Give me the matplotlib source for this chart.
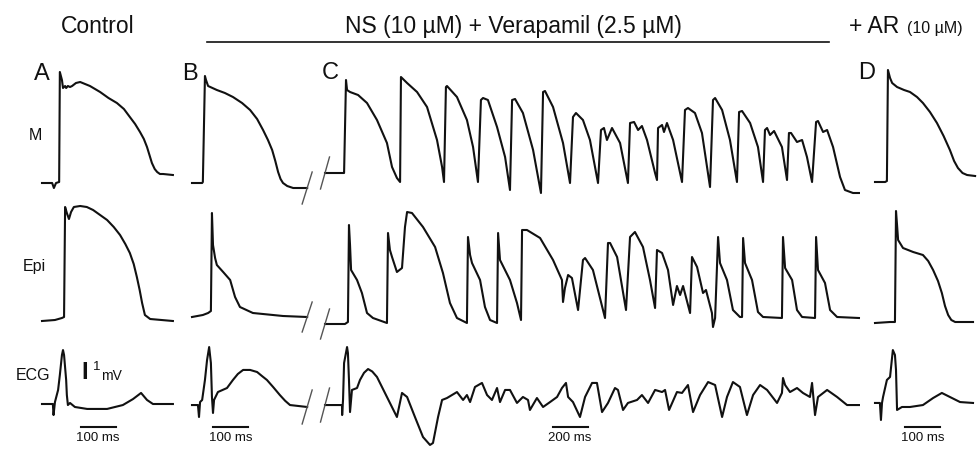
import matplotlib.pyplot as plt
from matplotlib.lines import Line2D
from matplotlib.transforms import IdentityTransform

plt.rcParams['font.family'] = ['Liberation Sans', 'DejaVu Sans']

# ---- traces: time in ms, membrane potential in mV, ECG in mV ----
# Control (A)
a_m_t = [0, 29, 34, 40, 49, 51, 57, 60, 66, 69, 74, 80, 86, 97, 109, 137, 166, 190, 214, 234, 251, 266,
         280, 291, 300, 307, 314, 322, 329, 337, 346, 374]
a_m_v = [-85, -85, -90, -85, -84, 26, 18, 10, 12, 10, 12, 11, 12, 15, 16, 12, 6, 0, -5, -11, -19, -26,
         -34, -41, -49, -57, -65, -71, -74, -76, -76, -77]
a_epi_t = [0, 37, 57, 63, 66, 71, 77, 83, 91, 109, 128, 146, 166, 186, 205, 223, 238, 251, 262, 271,
           279, 286, 294, 309, 374]
a_epi_v = [-85, -84, -82, -81, 29, 23, 17, 24, 29, 30, 29, 26, 21, 16, 9, 1, -8, -17, -28, -41,
           -54, -67, -79, -83, -85]
a_ecg_t = [0, 31, 33, 37, 46, 51, 57, 60, 63, 69, 71, 74, 80, 94, 129, 186, 231, 260, 283, 300, 317, 374]
a_ecg_v = [0, 0, -0.85, 0.15, 1.08, 2.23, 3.77, 4.15, 3.77, 1.85, 0.69, -0.08, 0.08, -0.23, -0.38, -0.38,
           -0.08, 0.38, 0.85, 0.31, 0, 0]

# NS + Verapamil, first beat (B)
b_m_t = [0, 29, 31, 37, 40, 46, 71, 94, 117, 143, 166, 186, 203, 217, 229, 238, 246, 253, 260, 272,
         289, 329]
b_m_v = [-85, -85, -84, 22, 18, 12, 8, 5, 1, -5, -12, -21, -32, -42, -52, -63, -74, -81, -85, -88,
         -90, -90]
b_epi_t = [0, 31, 46, 54, 57, 60, 66, 71, 89, 109, 123, 137, 174, 260, 329]
b_epi_v = [-81, -79, -77, -75, 23, -9, -22, -29, -36, -44, -61, -71, -77, -80, -81]
b_ecg_t = [0, 17, 20, 23, 29, 37, 43, 49, 54, 57, 60, 63, 74, 100, 117, 131, 146, 166, 186, 200, 214,
           232, 251, 266, 280, 329]
b_ecg_v = [-0.08, -0.08, -1.0, 0.15, 0.31, 1.85, 3.38, 4.38, 3.15, 0.54, -0.69, 0.31, 0.92, 1.23, 1.85,
           2.31, 2.62, 2.62, 2.46, 2.15, 1.85, 1.3, 0.69, 0.25, -0.08, -0.23]

# NS + Verapamil, arrhythmia run (C)
c_m_t = [0, 103, 109, 120, 126, 143, 189, 240, 297, 354, 383, 411, 429,
         434, 469, 526, 583, 640, 669, 680, 691, 697, 754, 811, 846, 874,
         891, 903, 931, 983, 1029, 1057, 1069, 1086, 1131, 1189, 1234,
         1246, 1257, 1303, 1360, 1400, 1417, 1434, 1474, 1514, 1560,
         1577, 1594, 1611, 1640, 1686, 1731, 1743, 1766, 1789, 1811, 1840, 1886, 1897,
         1903, 1926, 1937, 1954, 1989, 2040, 2057, 2074, 2114, 2154, 2200,
         2217, 2229, 2269, 2314, 2354, 2366, 2383, 2429, 2474, 2503,
         2514, 2526, 2543, 2566, 2611, 2640, 2651, 2663, 2697, 2726, 2754, 2783,
         2806, 2817, 2846, 2869, 2903, 2943, 2971, 3017, 3051]
c_m_v = [-75, -75, -75, 18, 8, 6, 3, -5, -22, -45, -69, -80, -84,
         21, 15, 6, -9, -42, -69, -84, 11, 12, 1, -22, -49, -84,
         -2, 0, -2, -29, -59, -92, -2, -1, -15, -52, -95,
         6, 7, -9, -45, -85, -19, -15, -22, -42, -85,
         -32, -30, -42, -30, -45, -85, -25, -24, -32, -28, -42, -75, -82,
         -30, -27, -34, -25, -42, -84, -12, -10, -15, -35, -89,
         -2, 0, -12, -42, -84, -14, -13, -25, -49, -84,
         -32, -30, -37, -33, -49, -82, -35, -35, -44, -42, -59, -84,
         -24, -23, -34, -32, -49, -79, -92, -95, -95]
c_epi_t = [0, 114, 131, 137, 143, 149, 183, 211, 240, 274, 354,
           360, 371, 383, 411, 440, 457, 469, 497, 560, 629, 674, 714, 754, 811,
           817, 829, 840, 886, 914, 943, 983, 989, 1000, 1057, 1097, 1120,
           1126, 1154, 1229, 1303, 1354, 1360, 1371, 1389, 1411, 1446,
           1474, 1486, 1531, 1600, 1617, 1629, 1669, 1720, 1743, 1771, 1817, 1857, 1886,
           1897, 1926, 1960, 1989, 2011, 2029, 2046, 2086, 2097, 2126, 2160, 2177, 2211,
           2217, 2229, 2246, 2257, 2297, 2331, 2371, 2383, 2389, 2400, 2440, 2474, 2503,
           2611, 2617, 2629, 2669, 2697, 2726, 2800, 2806, 2817, 2857, 2886, 2926, 3051]
c_epi_v = [-88, -88, -86, 11, -9, -34, -44, -57, -77, -82, -87,
           3, -14, -21, -36, -32, 9, 24, 23, 9, -11, -37, -67, -82, -87,
           -1, -19, -27, -44, -71, -84, -87, 3, -24, -44, -67, -84,
           6, 6, -2, -24, -44, -66, -52, -39, -42, -74,
           -24, -22, -34, -82, -7, -7, -21, -74, -1, 4, -11, -44, -72,
           -14, -17, -34, -69, -50, -59, -50, -77, -21, -31, -57, -54, -77,
           -91, -82, -1, -27, -44, -74, -81, -81, -2, -27, -44, -76, -81,
           -82, -1, -32, -44, -74, -81, -82, -1, -34, -47, -74, -81, -82]
c_ecg_t = [0, 97, 98, 103, 109, 126, 131, 137, 143, 154, 183, 200, 223, 246, 270, 297, 354, 411, 440, 469,
           514, 560, 600, 617, 646, 669, 697, 754, 789, 811, 829, 857, 897, 926, 954, 983,
           1000, 1029, 1057, 1097, 1131, 1160, 1171, 1211, 1246, 1286, 1326, 1354, 1377,
           1389, 1417, 1457, 1486, 1526, 1554, 1583, 1617, 1657, 1674, 1703, 1731, 1783,
           1811, 1846, 1886, 1926, 1943, 1966, 2011, 2040, 2074, 2103, 2143, 2189, 2229,
           2269, 2297, 2331, 2371, 2411, 2446, 2486, 2526, 2583, 2611, 2617, 2629, 2657,
           2697, 2731, 2771, 2783, 2800, 2817, 2869, 2926, 2983, 3051]
c_ecg_v = [-0.08, -0.08, -0.85, 0.31, 3.15, 4.38, 3.92, 1.85, -0.62, 1.08, 1.23, 1.85, 2.4, 2.69, 2.5,
           2.08, 0.54, -1.0, 0.85, 0.54, -1.0, -2.54, -3.15, -3.0, -1.0, 0.31, 0.46, 0.92,
           0.31, 0.69, 0.15, 1.31, 1.62, 0.69, 0.31, 1.23, 0.15, 1.08, 1.08, 0.08, 0.54,
           0.31, -0.46, 0.46, -0.23, 0.15, 0.54, 1.23, 1.62, 0.54, 0.15, -1.0, 0.54, 1.62,
           1.62, -0.62, 0.08, 1.23, 1.08, -0.46, 0.08, 0.31, 0.69, 0.08, 1.08, 0.92, 1.08,
           -0.46, 0.92, 0.85, 1.46, -0.62, 0.69, 1.69, 1.46, -1.0, 0.54, 1.69, 1.31, -0.85,
           0.69, 1.46, 1.08, 0.08, 0.85, 2.0, 1.46, 0.92, 1.23, 0.85, 0.54, 1.62, -0.85,
           0.54, 1.08, 0.54, -0.08, -0.08]

# + AR (D)
d_m_t = [0, 29, 34, 37, 43, 49, 63, 83, 100, 120, 137, 157, 177, 196, 214, 226, 237, 250, 263, 286]
d_m_v = [-84, -84, -83, 28, 20, 15, 11, 8, 6, 1, -5, -14, -25, -38, -52, -63, -70, -75, -77, -78]
d_epi_t = [0, 43, 57, 60, 63, 66, 80, 109, 137, 152, 166, 180, 191, 200, 209, 218, 229, 280]
d_epi_v = [-87, -86, -86, 25, 11, -4, -12, -16, -19, -25, -34, -45, -57, -70, -79, -84, -86, -86]
d_ecg_t = [0, 14, 17, 20, 23, 34, 43, 51, 57, 60, 63, 77, 100, 137, 166, 191, 214, 243, 280]
d_ecg_v = [0.08, 0.08, -1.23, 0.08, 0.54, 1.85, 2.08, 4.15, 3.77, 2.62, -0.46, -0.23, -0.23,
           -0.08, 0.46, 0.85, 0.54, 0.15, 0.08]

# time scale bars (ms) and their labels
bar_start = {'A': 110, 'B': 60, 'C': 1300, 'D': 86}
bar_len = {'A': 100, 'B': 100, 'C': 200, 'D': 100}
bar_labels = {'A': '100 ms', 'B': '100 ms', 'C': '200 ms', 'D': '100 ms'}

row_labels = ['M', 'Epi', 'ECG']
panel_letters = ['A', 'B', 'C', 'D']

traces = {
    ('A', 'M'): (a_m_t, a_m_v), ('A', 'Epi'): (a_epi_t, a_epi_v), ('A', 'ECG'): (a_ecg_t, a_ecg_v),
    ('B', 'M'): (b_m_t, b_m_v), ('B', 'Epi'): (b_epi_t, b_epi_v), ('B', 'ECG'): (b_ecg_t, b_ecg_v),
    ('C', 'M'): (c_m_t, c_m_v), ('C', 'Epi'): (c_epi_t, c_epi_v), ('C', 'ECG'): (c_ecg_t, c_ecg_v),
    ('D', 'M'): (d_m_t, d_m_v), ('D', 'Epi'): (d_epi_t, d_epi_v), ('D', 'ECG'): (d_ecg_t, d_ecg_v),
}

# ---- layout (pixels of the 979x449 figure) ----
W, H = 979, 449
# column: left pixel, ms per pixel, width in pixels
COLS = {'A': (42, 2.857, 140), 'B': (192, 2.857, 120), 'C': (325, 5.714, 540), 'D': (875, 2.857, 104)}
# row: reference pixel, value at reference, pixels per unit, top, bottom
ROWS = {'M': (183, -85, 1.0, 45, 215), 'Epi': (321, -85, 1.0, 190, 345), 'ECG': (404, 0, 13.0, 335, 449)}

fig = plt.figure(figsize=(W / 100, H / 100), dpi=100)


def make_ax(col, row):
    x0, msp, wpx = COLS[col]
    ref, refv, ppu, top, bot = ROWS[row]
    pad = 4
    ax = fig.add_axes([(x0 - pad) / W, 1 - bot / H, (wpx + 2 * pad) / W, (bot - top) / H])
    ax.set_xlim(-pad * msp, (wpx + pad) * msp)
    ax.set_ylim(refv - (bot - ref) / ppu, refv + (ref - top) / ppu)
    ax.axis('off')
    ax.patch.set_visible(False)
    return ax


def slash(ax, t, v, half_w, half_h):
    # break mark centred on a trace end
    px, py = ax.transData.transform((t, v))
    fig.add_artist(Line2D([px - half_w, px + half_w], [py - half_h, py + half_h],
                          transform=IdentityTransform(), color='#555555', lw=1.0))


axes = {}
for col in panel_letters:
    for row in row_labels:
        ax = make_ax(col, row)
        axes[(col, row)] = ax
        t, v = traces[(col, row)]
        ax.plot(t, v, color='#111111', lw=1.5, solid_joinstyle='round', clip_on=False)

# break marks between B and C
for row, hh in zip(row_labels, [16, 15, 17]):
    bt, bv = traces[('B', row)]
    slash(axes[('B', row)], bt[-1], bv[-1], 5, hh)
    ct, cv = traces[('C', row)]
    slash(axes[('C', row)], ct[0], cv[0], 4.5, hh)

# time scale bars on the ECG row
for col in panel_letters:
    ax = axes[(col, 'ECG')]
    s = bar_start[col]
    ax.plot([s, s + bar_len[col]], [-1.77, -1.77], color='#111111', lw=1.5, clip_on=False)
    ax.text(s + bar_len[col] / 2, -2.6, bar_labels[col], ha='center', va='center',
            fontsize=9.5, color='#111111', clip_on=False)


def ftext(x, y, s, **kw):
    fig.text(x / W, 1 - y / H, s, color='#111111', **kw)


# headings
ftext(98, 33, 'Control', fontsize=16.5, ha='center', va='baseline')
ftext(513, 33, 'NS (10 µM) + Verapamil (2.5 µM)', fontsize=16.5, ha='center', va='baseline')
ftext(874, 33, '+ AR', fontsize=16.5, ha='center', va='baseline')
ftext(935, 33, '(10 µM)', fontsize=11.5, ha='center', va='baseline')
fig.add_artist(Line2D([207 / W, 829 / W], [1 - 42 / H, 1 - 42 / H], transform=fig.transFigure,
                      color='#111111', lw=1.2))

# panel letters
for letter, (x, y) in zip(panel_letters, [(42, 80), (190, 80), (330, 79), (867, 79)]):
    ftext(x, y, letter, fontsize=17, ha='center', va='baseline')

# row labels
for lab, (x, y) in zip(row_labels, [(35, 135), (34, 266), (33, 375)]):
    ftext(x, y, lab, fontsize=11.5, ha='center', va='center')

# 1 mV amplitude marker
ftext(85, 379, 'I', fontsize=17, ha='center', va='baseline', fontweight='bold')
ftext(97, 367, '1', fontsize=9.5, ha='center', va='center')
ftext(111, 380, 'mV', fontsize=10, ha='center', va='baseline')

fig.savefig('out.png', dpi=100)
